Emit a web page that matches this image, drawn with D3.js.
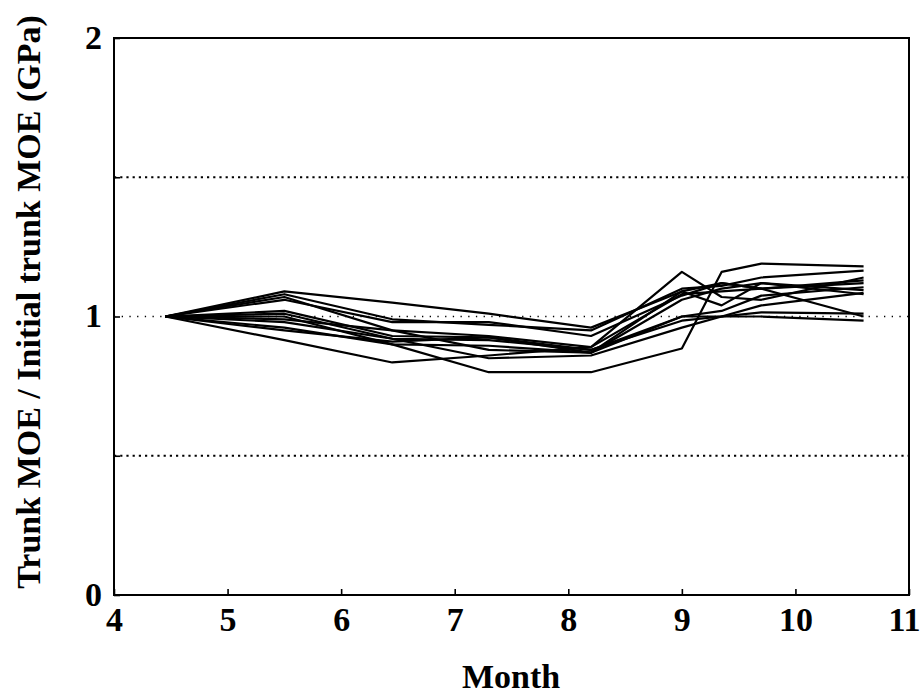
<!DOCTYPE html>
<html>
<head>
<meta charset="utf-8">
<script src="https://cdn.jsdelivr.net/npm/d3@7"></script>
<style>
  html, body { margin: 0; padding: 0; background: #fff; }
  svg { display: block; }
  text { font-family: "Liberation Serif", "Times New Roman", serif; font-weight: bold; fill: #000; }
</style>
</head>
<body>
<svg id="chart" width="924" height="697"></svg>
<script>
// Sampling dates (month of year) shared by every tree
const months = [4.45, 5.5, 6.45, 7.3, 8.2, 9.0, 9.35, 9.7, 10.6];

// Trunk MOE relative to its initial value, one array per tree
const tree1  = [1, 1.09, 1.05, 1.01, 0.96, 1.09, 1.12, 1.10, 1.12];
const tree2  = [1, 1.08, 0.99, 0.97, 0.95, 1.10, 1.11, 1.14, 1.165];
const tree3  = [1, 1.07, 0.95, 0.93, 0.89, 1.16, 1.07, 1.06, 1.14];
const tree4  = [1, 1.06, 0.98, 0.98, 0.93, 1.075, 1.12, 1.10, 1.00];
const tree5  = [1, 1.02, 0.93, 0.925, 0.88, 1.00, 1.02, 1.075, 1.105];
const tree6  = [1, 1.01, 0.92, 0.915, 0.88, 0.985, 1.00, 1.04, 1.085];
const tree7  = [1, 1.00, 0.90, 0.895, 0.87, 1.06, 1.10, 1.12, 1.08];
const tree8  = [1, 0.99, 0.95, 0.88, 0.87, 1.00, 1.00, 1.015, 1.01];
const tree9  = [1, 0.98, 0.92, 0.85, 0.86, 0.96, 1.00, 1.00, 0.985];
const tree10 = [1, 0.96, 0.90, 0.80, 0.80, 0.885, 1.16, 1.19, 1.18];
const tree11 = [1, 0.915, 0.835, 0.86, 0.89, 1.08, 1.09, 1.10, 1.13];
const tree12 = [1, 0.95, 0.91, 0.925, 0.87, 1.09, 1.04, 1.12, 1.095];
const trees = [tree1, tree2, tree3, tree4, tree5, tree6, tree7, tree8, tree9, tree10, tree11, tree12];

// Axis ticks and reference levels
const xTicks = [4, 5, 6, 7, 8, 9, 10, 11];
const yTicks = [0, 0.5, 1, 1.5, 2];
const yTickLabels = [0, 1, 2];
const refLevels = [0.5, 1, 1.5];

const svg = d3.select("#chart");
const plotLeft = 114, plotRight = 909, plotTop = 38, plotBottom = 595;

const x = d3.scaleLinear().domain([4, 11]).range([plotLeft, plotRight]);
const y = d3.scaleLinear().domain([0, 2]).range([plotBottom, plotTop]);

// Dotted reference lines
svg.append("g").selectAll("line").data(refLevels).join("line")
  .attr("x1", plotLeft).attr("x2", plotRight)
  .attr("y1", d => y(d)).attr("y2", d => y(d))
  .attr("stroke", "#000")
  .attr("stroke-width", d => d === 1 ? 1.3 : 2.2)
  .attr("stroke-dasharray", d => d === 1 ? "1.3,6.4" : "2.2,4");

// Tree series
const line = d3.line().x((d, i) => x(months[i])).y(d => y(d));
svg.append("g").selectAll("path").data(trees).join("path")
  .attr("d", line)
  .attr("fill", "none")
  .attr("stroke", "#000")
  .attr("stroke-width", 2.2)
  .attr("stroke-linejoin", "round");

// Frame
svg.append("rect")
  .attr("x", plotLeft).attr("y", plotTop)
  .attr("width", plotRight - plotLeft).attr("height", plotBottom - plotTop)
  .attr("fill", "none").attr("stroke", "#000").attr("stroke-width", 2);

// Bottom axis: inward ticks and labels
const xAxis = d3.axisBottom(x).tickValues(xTicks).tickSizeInner(-6).tickSizeOuter(0).tickPadding(12)
  .tickFormat(d3.format("d"));
const gx = svg.append("g").attr("transform", `translate(0,${plotBottom})`).call(xAxis);
gx.select(".domain").remove();
gx.selectAll(".tick line").attr("stroke", "#000").attr("stroke-width", 1.6);
gx.selectAll(".tick text")
  .attr("font-size", 34).attr("font-family", "Liberation Serif").attr("font-weight", "bold")
  .attr("dy", "0.72em")
  .attr("dx", d => d === 11 ? -5 : 0);

// Left axis: inward ticks, labels only at whole numbers
const yAxis = d3.axisLeft(y).tickValues(yTicks).tickSizeInner(-6).tickSizeOuter(0).tickPadding(12)
  .tickFormat(d => yTickLabels.includes(d) ? d3.format("d")(d) : "");
const gy = svg.append("g").attr("transform", `translate(${plotLeft},0)`).call(yAxis);
gy.select(".domain").remove();
gy.selectAll(".tick line").attr("stroke", "#000").attr("stroke-width", 1.6);
gy.selectAll(".tick text")
  .attr("font-size", 34).attr("font-family", "Liberation Serif").attr("font-weight", "bold")
  .attr("dy", "0.3em");

// Axis titles
svg.append("text")
  .attr("x", 511).attr("y", 688)
  .attr("text-anchor", "middle").attr("font-size", 34)
  .text("Month");

svg.append("text")
  .attr("transform", "translate(40,302) rotate(-90)")
  .attr("text-anchor", "middle").attr("font-size", 34)
  .text("Trunk MOE / Initial trunk MOE (GPa)");
</script>
</body>
</html>
